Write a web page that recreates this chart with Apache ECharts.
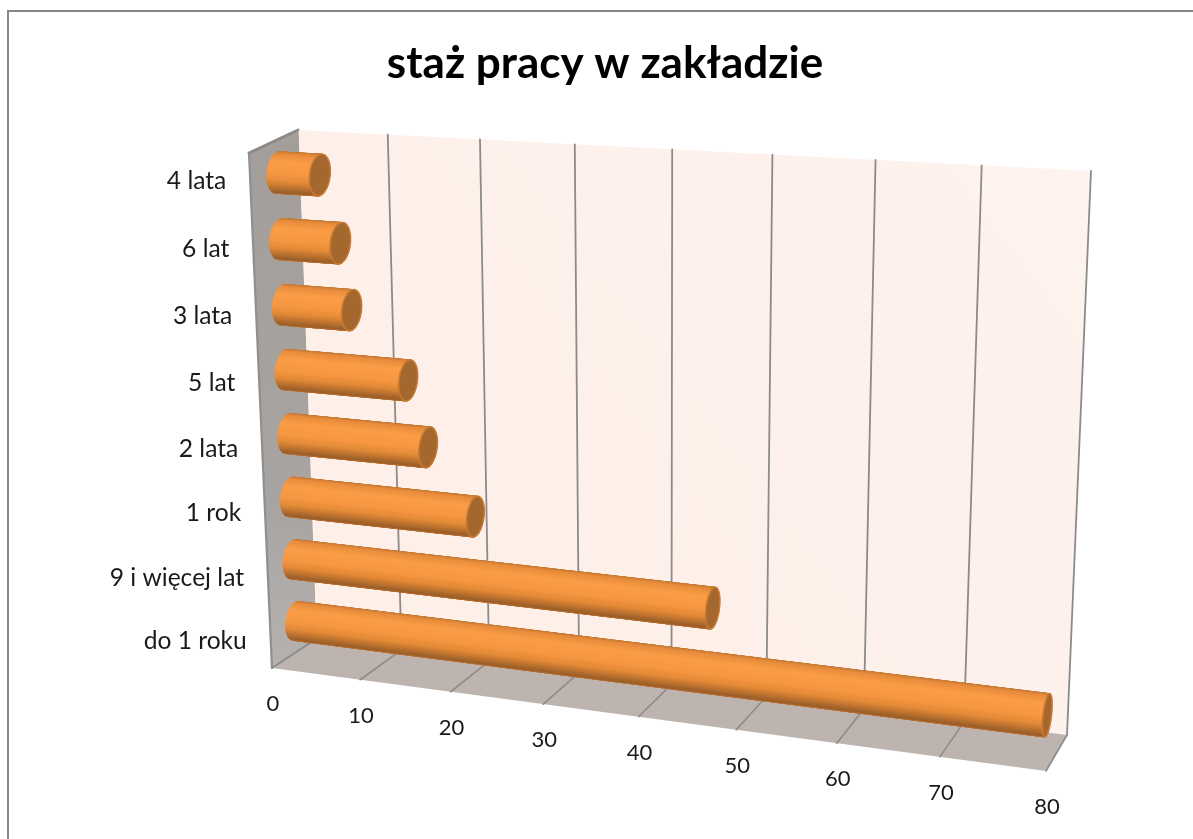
<!DOCTYPE html>
<html><head><meta charset="utf-8">
<style>html,body{margin:0;padding:0;background:#fff}#c{width:1193px;height:839px}</style>
<script src="https://cdn.jsdelivr.net/npm/echarts@6/dist/echarts.min.js"></script>
</head><body><div id="c"></div>
<script>
// ---- data ----
const categories = ['do 1 roku','9 i więcej lat','1 rok','2 lata','5 lat','3 lata','6 lat','4 lata'];
const values = [79, 46, 21, 16, 14, 8, 7, 5];
const xTicks = [0,10,20,30,40,50,60,70,80];

// ---- perspective box: corners of the plot on the screen ----
const FRONT = {tl:[249,153], tr:[1065,201], br:[1046,771], bl:[272,668]};
const BACK  = {tl:[298,130], tr:[1091,171], br:[1067,735], bl:[316,639]};
function homography(q){
  const [x0,y0]=q.bl,[x1,y1]=q.br,[x2,y2]=q.tr,[x3,y3]=q.tl;
  const dx1=x1-x2,dx2=x3-x2,sx=x0-x1+x2-x3,dy1=y1-y2,dy2=y3-y2,sy=y0-y1+y2-y3;
  const d=dx1*dy2-dx2*dy1;
  const g=(sx*dy2-dx2*sy)/d,h=(dx1*sy-sx*dy1)/d;
  const a=x1-x0+g*x1,b=x3-x0+h*x3,c=x0,e=y1-y0+g*y1,f=y3-y0+h*y3,k=y0;
  return (u,v)=>{const n=g*u+h*v+1;return [(a*u+b*v+c)/n,(e*u+f*v+k)/n];};
}
const HF=homography(FRONT),HB=homography(BACK);
function P(u,v,w){const a=HF(u,v),b=HB(u,v);return [a[0]+(b[0]-a[0])*w,a[1]+(b[1]-a[1])*w];}
function norm(cs,pt){return [(pt[0]-cs.x)/cs.width,1-(pt[1]-cs.y)/cs.height];}

const FONT='Lato, sans-serif';
const TICK_SIZE=22, CAT_SIZE=24.6;
const TXT='#1a1a1a';
const GRID='#8b8b8b';

function poly(points,style){return {type:'polygon',shape:{points},style,silent:true};}
function line(a,b,stroke,lineWidth){return {type:'line',shape:{x1:a[0],y1:a[1],x2:b[0],y2:b[1]},style:{stroke,lineWidth,lineCap:'round'},silent:true};}

function renderWalls(params,api){
  const left=[P(0,1,0),P(0,1,1),P(0,0,1),P(0,0,0)];
  const back=[P(0,1,1),P(1,1,1),P(1,0,1),P(0,0,1)];
  const floor=[P(0,0,0),P(0,0,1),P(1,0,1),P(1,0,0)];
  return {type:'group',children:[
    poly(back,{fill:{type:'linear',x:0,y:1,x2:1,y2:0,colorStops:[{offset:0,color:'#feefe8'},{offset:.6,color:'#fef0ea'},{offset:1,color:'#fef3ef'}]}}),
    poly(floor,{fill:'#bdb4b0'}),
    poly(left,{fill:{type:'linear',x:0,y:0,x2:0,y2:1,colorStops:[{offset:0,color:'#a39e9a'},{offset:.7,color:'#a8a4a1'},{offset:1,color:'#b5b2b0'}]}}),
    line(left[0],left[1],'#8a8a8a',3),
    line(left[0],left[3],'#8f8f8f',2.2),
    line(P(0,0,0),P(0,0,1),'#9a9a9a',1.2),
    line(left[1],left[2],'#a0a0a0',1)
  ]};
}
function renderGrid(params,api){
  const cs=params.coordSys;
  const u=norm(cs,api.coord([api.value(0),0]))[0];
  const kids=[line(P(u,0,0),P(u,0,1),GRID,1.6)];
  if(u>0) kids.push(line(P(u,0,1),P(u,1,1),GRID,1.8));
  const f=P(u,0,0);
  kids.push({type:'text',silent:true,style:{x:f[0]+1,y:f[1]+36,text:String(api.value(0)),align:'center',verticalAlign:'middle',fontFamily:FONT,fontSize:TICK_SIZE,fill:TXT}});
  return {type:'group',children:kids};
}
const RAMP=[[-1,[196,120,50]],[-.88,[232,140,60]],[-.5,[251,157,70]],[.1,[247,151,65]],[.42,[226,137,54]],[.72,[184,112,47]],[.93,[152,94,41]],[1,[190,112,46]]];
function ramp(t){
  for(let i=1;i<RAMP.length;i++){
    if(t<=RAMP[i][0]){
      const a=RAMP[i-1],b=RAMP[i],k=Math.max(0,(t-a[0])/(b[0]-a[0]));
      return 'rgb('+a[1].map((c,j)=>Math.round(c+(b[1][j]-c)*k)).join(',')+')';
    }
  }
  return 'rgb('+RAMP[RAMP.length-1][1].join(',')+')';
}
const STRIPS=64, RW=0.22, RV=0.3, WC=0.5, VSHIFT=0.005, U0=0.004;
function renderBar(params,api){
  const cs=params.coordSys;
  const idx=api.value(0),val=api.value(1);
  const a=norm(cs,api.coord([val,idx]));
  const u1=a[0],v=a[1]+VSHIFT;
  const rv=RV*api.size([0,1])[1]/cs.height;
  const ring=(u,th)=>P(u,v+rv*Math.cos(th),WC+RW*Math.sin(th));
  const A=P(U0,v,WC),B=P(u1,v,WC),slope=(B[1]-A[1])/(B[0]-A[0]);
  const um=u1/2,C=P(um,v,WC);
  const off=th=>{const p=ring(um,th);return (p[1]-C[1])-slope*(p[0]-C[0]);};
  let maxOff=0;
  for(let i=0;i<STRIPS;i++)maxOff=Math.max(maxOff,Math.abs(off(i/STRIPS*2*Math.PI)));
  const strips=[];
  for(let i=0;i<STRIPS;i++){
    const t0=i/STRIPS*2*Math.PI,t1=(i+1)/STRIPS*2*Math.PI,tm=(t0+t1)/2;
    const col=ramp(off(tm)/maxOff);
    strips.push({d:Math.sin(tm),el:poly([ring(U0,t0),ring(u1,t0),ring(u1,t1),ring(U0,t1)],{fill:col,stroke:col,lineWidth:.8})});
  }
  strips.sort((p,q)=>q.d-p.d);
  const cap=[];
  for(let i=0;i<STRIPS;i++)cap.push(ring(u1,i/STRIPS*2*Math.PI));
  const kids=strips.map(s=>s.el);
  kids.push(poly(cap,{fill:'#a4672d',stroke:'#c9792f',lineWidth:1.6}));
  return {type:'group',children:kids};
}
function renderCat(params,api){
  const cs=params.coordSys;
  const v=norm(cs,api.coord([0,api.value(0)]))[1];
  const p=P(0,.5+(v-.5)*1.0208,0);
  return {type:'text',silent:true,style:{x:p[0]-24,y:p[1]-1,text:categories[api.value(0)],align:'right',verticalAlign:'middle',fontFamily:FONT,fontSize:CAT_SIZE,fill:TXT}};
}

const chart=echarts.init(document.getElementById('c'),null,{renderer:'canvas'});
chart.setOption({
  animation:false,
  backgroundColor:'#ffffff',
  title:{text:'staż pracy w zakładzie',left:600,top:59,textAlign:'center',textVerticalAlign:'middle',
    textStyle:{fontFamily:FONT,fontWeight:'bold',fontSize:44,color:'#000'}},
  graphic:[{type:'rect',shape:{x:8,y:11,width:1400,height:1100},style:{fill:'none',stroke:'#868686',lineWidth:2},silent:true,z:-1}],
  grid:{left:100,top:100,width:800,height:640},
  xAxis:{type:'value',min:0,max:80,interval:10,show:false},
  yAxis:{type:'category',data:categories,show:false},
  tooltip:{show:false},
  series:[
    {type:'custom',coordinateSystem:'cartesian2d',renderItem:renderWalls,data:[[0]],encode:{x:0},clip:false,z:1},
    {type:'custom',coordinateSystem:'cartesian2d',renderItem:renderGrid,data:xTicks.map(t=>[t]),encode:{x:0},clip:false,z:2},
    {type:'custom',coordinateSystem:'cartesian2d',renderItem:renderCat,data:categories.map((c,i)=>[i]),encode:{y:0},clip:false,z:3},
    {type:'custom',coordinateSystem:'cartesian2d',renderItem:renderBar,data:values.map((v,i)=>[i,v]),encode:{y:0,x:1},clip:false,z:4}
  ]
});
</script></body></html>
